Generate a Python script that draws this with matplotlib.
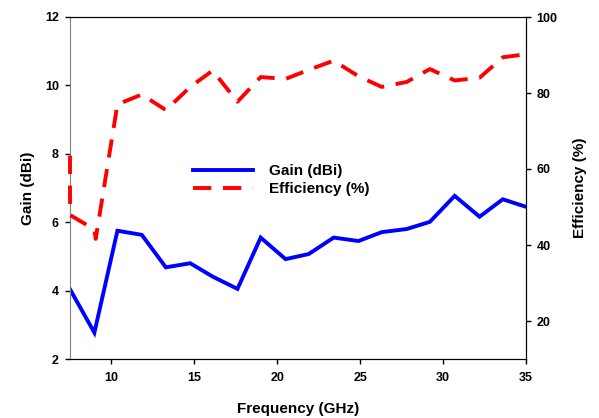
import matplotlib
matplotlib.use("Agg")
import matplotlib.pyplot as plt

plt.rcParams['font.family'] = ['Liberation Sans', 'DejaVu Sans']
plt.rcParams['font.weight'] = 'bold'

# Data
freq_gain = [7.5, 8.97, 10.36, 11.83, 13.28, 14.75, 16.1, 17.6, 19.0, 20.5,
             21.9, 23.4, 24.9, 26.3, 27.8, 29.2, 30.7, 32.2, 33.6, 35.0]
gain = [4.04, 2.77, 5.75, 5.63, 4.68, 4.80, 4.41, 4.05, 5.55, 4.92,
        5.07, 5.55, 5.45, 5.71, 5.80, 6.01, 6.77, 6.16, 6.67, 6.45]

freq_eff = [7.5, 7.5, 8.97, 9.05, 10.36, 11.83, 13.28, 14.75, 16.1, 17.6, 19.0, 20.5,
            21.9, 23.4, 24.9, 26.3, 27.8, 29.2, 30.7, 32.2, 33.6, 35.0]
efficiency = [63.5, 47.9, 44.1, 41.6, 77.0, 79.6, 75.5, 81.6, 85.9, 77.7, 84.2, 83.7,
              86.1, 88.5, 84.4, 81.6, 82.9, 86.3, 83.3, 84.0, 89.4, 90.2]

x_ticks = [10, 15, 20, 25, 30, 35]
gain_ticks = [2, 4, 6, 8, 10, 12]
eff_ticks = [20, 40, 60, 80, 100]

fig = plt.figure(figsize=(5.99, 4.18), dpi=100)
ax = fig.add_axes([70/599, 1-359/418, (526-70)/599, (359-17)/418])
ax2 = ax.twinx()

lw = 2.8
l1, = ax.plot(freq_gain, gain, color='#0000ff', lw=lw, solid_joinstyle='miter')
l2, = ax2.plot(freq_eff, efficiency, color='#ff0000', lw=lw, dashes=[4.7, 3.0],
               clip_on=False, zorder=3)

ax.set_xlim(7.5, 35)
ax.set_ylim(2, 12)
ax2.set_ylim(10, 100)
ax.set_xticks(x_ticks)
ax.set_yticks(gain_ticks)
ax2.set_yticks(eff_ticks)

for a in (ax, ax2):
    a.tick_params(direction='out', length=3.6, width=1, labelsize=9)
ax.tick_params(axis='x', pad=6, top=False)
ax.tick_params(axis='y', pad=4.5)
ax2.tick_params(axis='y', pad=4)
for lab in ax.get_xticklabels() + ax.get_yticklabels() + ax2.get_yticklabels():
    lab.set_fontweight('bold')

ax.spines['left'].set_color('#808080')
ax2.spines['left'].set_visible(False)
for s in ['top', 'right', 'bottom']:
    ax.spines[s].set_color('black')
    ax2.spines[s].set_color('black')

ax.set_xlabel('Frequency (GHz)', fontsize=11, fontweight='bold', labelpad=13)
ax.set_ylabel('Gain (dBi)', fontsize=11, fontweight='bold', labelpad=7)
ax2.set_ylabel('Efficiency (%)', fontsize=11, fontweight='bold', labelpad=11)

fig.legend([l1, l2], ['Gain (dBi)', 'Efficiency (%)'], loc='center left',
           bbox_to_anchor=(193/599, 1-180/418), bbox_transform=fig.transFigure,
           frameon=False, prop={'weight': 'bold', 'size': 11},
           handlelength=3.9, handletextpad=1.1, labelspacing=0.25,
           borderpad=0, borderaxespad=0)

fig.savefig('out.png', dpi=100)
